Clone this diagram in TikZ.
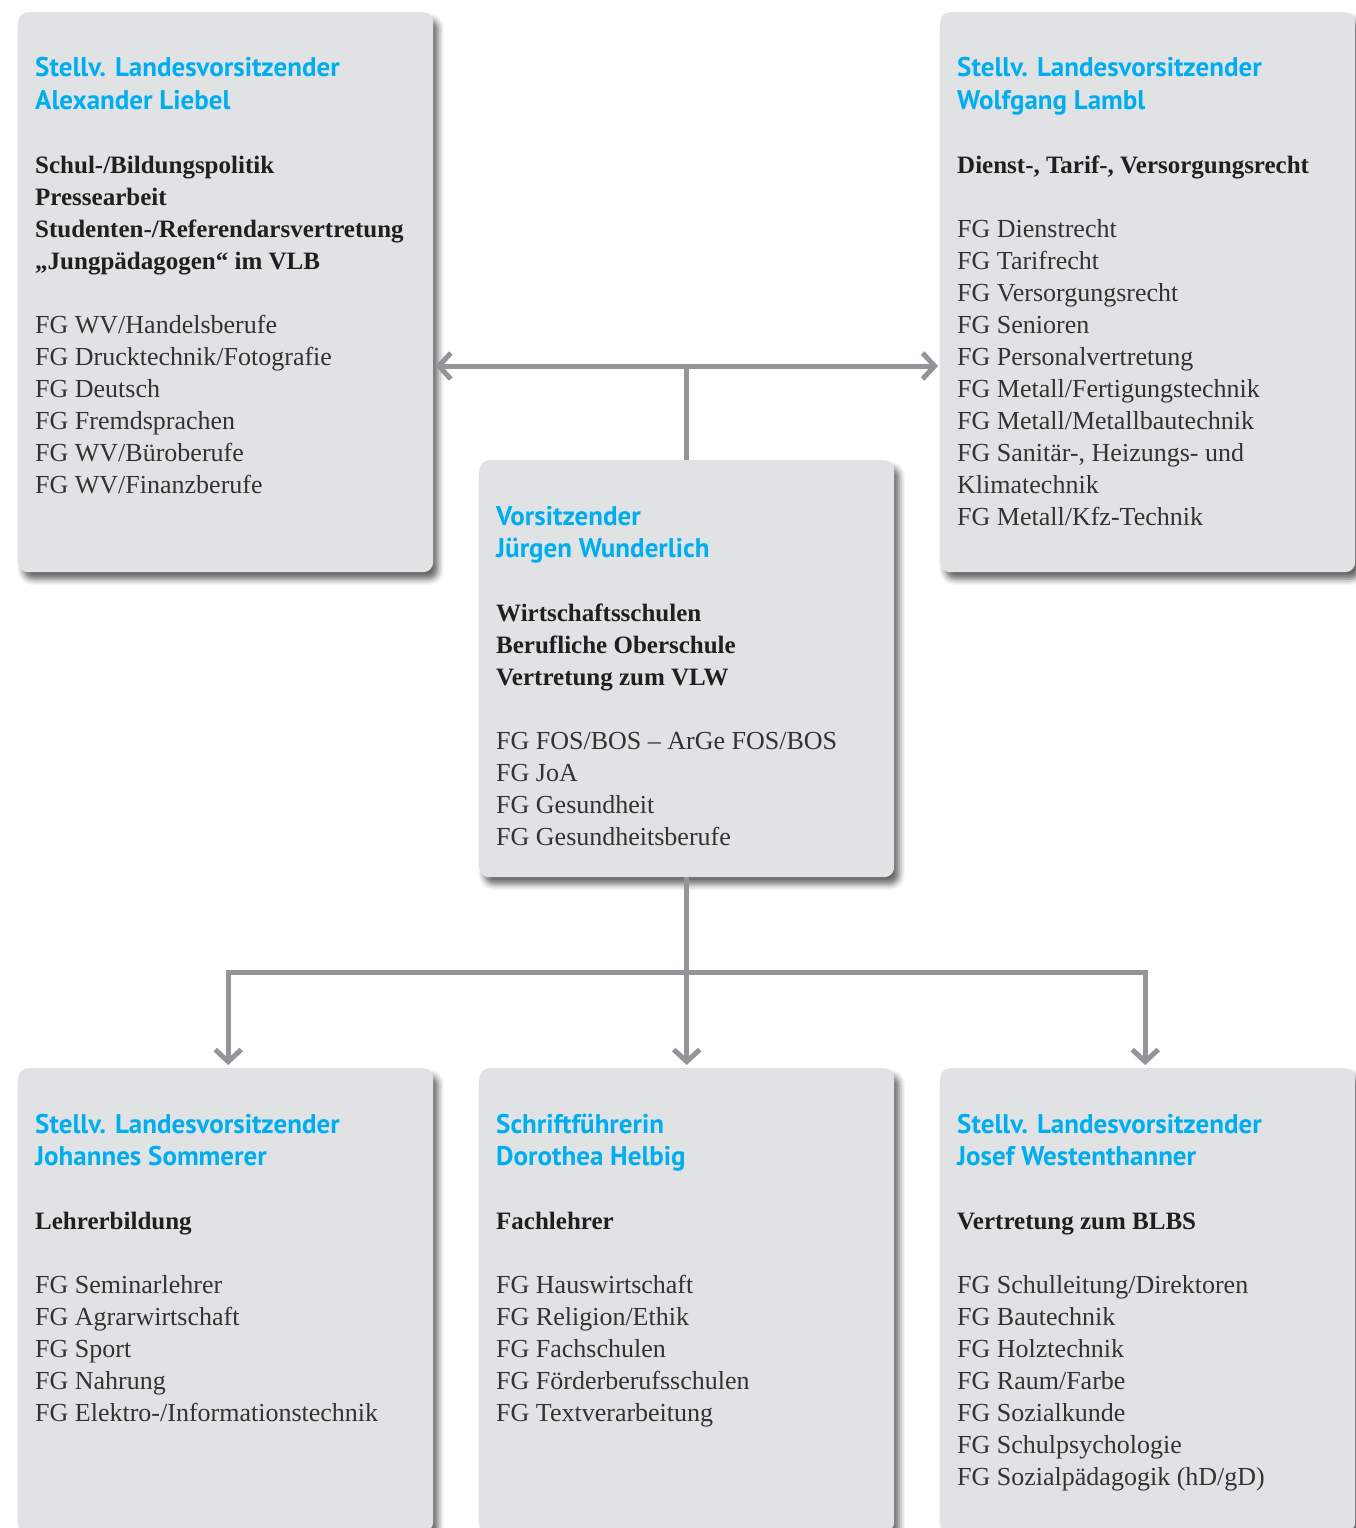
\documentclass[tikz,border=0pt]{standalone}
\usepackage{fontspec}
\setmainfont{Liberation Serif}
\newfontfamily\headfont{PT Sans}
\usetikzlibrary{arrows.meta,shadows.blur,calc}
\definecolor{boxgray}{RGB}{225,226,228}
\definecolor{linegray}{RGB}{147,149,152}
\definecolor{headblue}{RGB}{0,174,239}
\definecolor{darktext}{RGB}{35,31,32}
\definecolor{fgtext}{RGB}{52,50,51}
\tikzset{
  orgbox/.style={fill=boxgray, draw=none, rounded corners=10pt, inner sep=0pt,
    minimum width=415pt, anchor=north west,
    blur shadow={shadow xshift=5pt, shadow yshift=-7pt, shadow blur radius=6pt, shadow opacity=60}},
  hd/.style={anchor=base west, inner sep=0pt, text=headblue, font=\headfont\bfseries\fontsize{27}{32}\selectfont},
  bd/.style={anchor=base west, inner sep=0pt, text=darktext, font=\bfseries\fontsize{25}{32}\selectfont},
  fg/.style={anchor=base west, inner sep=0pt, text=fgtext, font=\fontsize{26}{32}\selectfont},
  conn/.style={draw=linegray, line width=5pt, line join=miter},
  arr/.style={conn, -{Straight Barb[length=12pt, width=26pt]}, shorten >=2pt}
}
\begin{document}
\begin{tikzpicture}[x=1pt, y=1pt]
\useasboundingbox (0,0) rectangle (1355,-1528);
% boxes
\node[orgbox, minimum height=560pt] (tl) at (18,-12) {};
\node[orgbox, minimum height=560pt] (tr) at (940,-12) {};
\node[orgbox, minimum height=417pt] (mid) at (479,-460) {};
\node[orgbox, minimum height=464pt] (bl) at (18,-1068) {};
\node[orgbox, minimum height=464pt] (bm) at (479,-1068) {};
\node[orgbox, minimum height=464pt] (br) at (940,-1068) {};
% texts
\foreach \sty/\n/\txt in {
  hd/0/{Stellv. Landesvorsitzender}, hd/1/{Alexander Liebel},
  bd/3/{Schul-/Bildungspolitik}, bd/4/{Pressearbeit},
  bd/5/{Studenten-/Referendarsvertretung}, bd/6/{„Jungpädagogen“ im VLB},
  fg/8/{FG WV/Handelsberufe}, fg/9/{FG Drucktechnik/Fotografie},
  fg/10/{FG Deutsch}, fg/11/{FG Fremdsprachen},
  fg/12/{FG WV/Büroberufe}, fg/13/{FG WV/Finanzberufe}}
  \node[\sty] (tl-\n) at ($(tl.north west)+(17,{-65-32*\n})$) {\txt};
\foreach \sty/\n/\txt in {
  hd/0/{Stellv. Landesvorsitzender}, hd/1/{Wolfgang Lambl},
  bd/3/{Dienst-, Tarif-, Versorgungsrecht},
  fg/5/{FG Dienstrecht}, fg/6/{FG Tarifrecht}, fg/7/{FG Versorgungsrecht},
  fg/8/{FG Senioren}, fg/9/{FG Personalvertretung},
  fg/10/{FG Metall/Fertigungstechnik}, fg/11/{FG Metall/Metallbautechnik},
  fg/12/{FG Sanitär-, Heizungs- und}, fg/13/{Klimatechnik},
  fg/14/{FG Metall/Kfz-Technik}}
  \node[\sty] (tr-\n) at ($(tr.north west)+(17,{-65-32*\n})$) {\txt};
\foreach \sty/\n/\txt in {
  hd/0/{Vorsitzender}, hd/1/{Jürgen Wunderlich},
  bd/3/{Wirtschaftsschulen}, bd/4/{Berufliche Oberschule}, bd/5/{Vertretung zum VLW},
  fg/7/{FG FOS/BOS – ArGe FOS/BOS}, fg/8/{FG JoA},
  fg/9/{FG Gesundheit}, fg/10/{FG Gesundheitsberufe}}
  \node[\sty] (mid-\n) at ($(mid.north west)+(17,{-65-32*\n})$) {\txt};
\foreach \sty/\n/\txt in {
  hd/0/{Stellv. Landesvorsitzender}, hd/1/{Johannes Sommerer},
  bd/3/{Lehrerbildung},
  fg/5/{FG Seminarlehrer}, fg/6/{FG Agrarwirtschaft}, fg/7/{FG Sport},
  fg/8/{FG Nahrung}, fg/9/{FG Elektro-/Informationstechnik}}
  \node[\sty] (bl-\n) at ($(bl.north west)+(17,{-65-32*\n})$) {\txt};
\foreach \sty/\n/\txt in {
  hd/0/{Schriftführerin}, hd/1/{Dorothea Helbig},
  bd/3/{Fachlehrer},
  fg/5/{FG Hauswirtschaft}, fg/6/{FG Religion/Ethik}, fg/7/{FG Fachschulen},
  fg/8/{FG Förderberufsschulen}, fg/9/{FG Textverarbeitung}}
  \node[\sty] (bm-\n) at ($(bm.north west)+(17,{-65-32*\n})$) {\txt};
\foreach \sty/\n/\txt in {
  hd/0/{Stellv. Landesvorsitzender}, hd/1/{Josef Westenthanner},
  bd/3/{Vertretung zum BLBS},
  fg/5/{FG Schulleitung/Direktoren}, fg/6/{FG Bautechnik}, fg/7/{FG Holztechnik},
  fg/8/{FG Raum/Farbe}, fg/9/{FG Sozialkunde}, fg/10/{FG Schulpsychologie},
  fg/11/{FG Sozialpädagogik (hD/gD)}}
  \node[\sty] (br-\n) at ($(br.north west)+(17,{-65-32*\n})$) {\txt};
% connectors
\coordinate (jt) at ($(mid.north)+(0,94)$);
\coordinate (jb) at ($(mid.south)+(0,-95)$);
\draw[conn] (mid.north) -- (jt);
\draw[arr] (jt) -- (jt -| tl.east);
\draw[arr] (jt) -- (jt -| tr.west);
\draw[arr, shorten >=3pt] (mid.south) -- (bm.north);
\draw[arr, shorten >=3pt] (jb) -| ([xshift=2.5pt]bl.north);
\draw[arr, shorten >=3pt] (jb) -| ([xshift=-2.5pt]br.north);
\end{tikzpicture}
\end{document}
